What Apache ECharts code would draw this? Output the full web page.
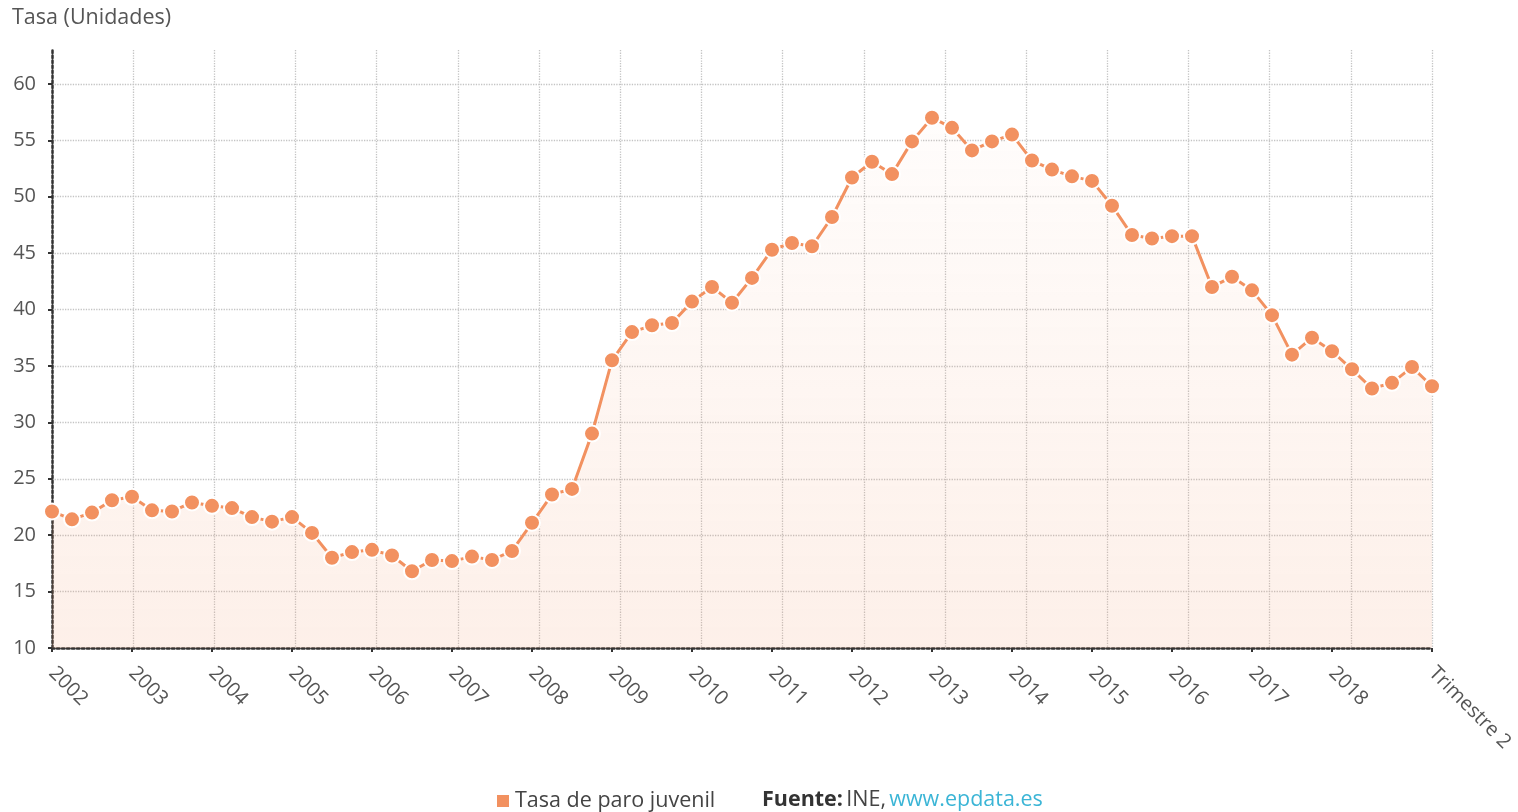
<!DOCTYPE html>
<html>
<head>
<meta charset="utf-8">
<title>Tasa de paro juvenil</title>
<script src="https://cdn.jsdelivr.net/npm/echarts@6/dist/echarts.min.js"></script>
<style>
  html, body { margin: 0; padding: 0; background: #ffffff; }
  #chart { width: 1518px; height: 812px; }
</style>
</head>
<body>
<div id="chart"></div>
<script>
// años del eje, cada uno con sus cuatro trimestres
const years = [2002, 2003, 2004, 2005, 2006, 2007, 2008, 2009, 2010, 2011, 2012, 2013, 2014, 2015, 2016, 2017, 2018, 2019]
const quarterNames = ['', 'Trimestre 2', 'Trimestre 3', 'Trimestre 4']
// tasa de paro juvenil (%), 2002 T1 .. 2019 T2
const paroJuvenil = [
  22.1, 21.4, 22.0, 23.1,
  23.4, 22.2, 22.1, 22.9,
  22.6, 22.4, 21.6, 21.2,
  21.6, 20.2, 18.0, 18.5,
  18.7, 18.2, 16.8, 17.8,
  17.7, 18.1, 17.8, 18.6,
  21.1, 23.6, 24.1, 29.0,
  35.5, 38.0, 38.6, 38.8,
  40.7, 42.0, 40.6, 42.8,
  45.3, 45.9, 45.6, 48.2,
  51.7, 53.1, 52.0, 54.9,
  57.0, 56.1, 54.1, 54.9,
  55.5, 53.2, 52.4, 51.8,
  51.4, 49.2, 46.6, 46.3,
  46.5, 46.5, 42.0, 42.9,
  41.7, 39.5, 36.0, 37.5,
  36.3, 34.7, 33.0, 33.5,
  34.9, 33.2
]
const yTicks = { min: 10, max: 63, step: 5 }

const categories = []
years.forEach((y) => {
  quarterNames.forEach((q) => {
    categories.push(q === '' ? String(y) : q)
  })
})
categories.length = paroJuvenil.length

const lastIdx = paroJuvenil.length - 1
const showTick = (idx) => idx % 4 === 0 && idx !== lastIdx - 1 || idx === lastIdx

const mainColor = '#f29160'
const textColor = '#555555'
const fontFamily = '"Open Sans", "Noto Sans", sans-serif'

// líneas horizontales: la última (extremo 63) va transparente
const hLineColors = []
for (let v = yTicks.min; v <= 60; v += yTicks.step) hLineColors.push('#c4c4c4')
hLineColors.push('rgba(0,0,0,0)')

var chartDom = document.getElementById('chart')
var myChart = echarts.init(chartDom)
var option

option = {
  animation: false,
  textStyle: { fontFamily: fontFamily },
  grid: {
    left: 52,
    right: 86,
    top: 50,
    bottom: 164,
    containLabel: false
  },
  legend: {
    data: ['Tasa de paro juvenil'],
    left: 490,
    top: 785,
    icon: 'rect',
    itemWidth: 14,
    itemHeight: 14,
    itemGap: 8,
    textStyle: { fontSize: 21.5, color: '#444', fontFamily: fontFamily }
  },
  graphic: [
    {
      type: 'text',
      left: 12,
      top: 7,
      style: {
        text: 'Tasa (Unidades)',
        fill: textColor,
        font: '21.5px ' + fontFamily
      }
    },
    {
      type: 'text',
      left: 762,
      top: 789,
      style: {
        text: '{b|Fuente:} {n|INE,} {l|www.epdata.es}',
        rich: {
          b: { fontSize: 21.5, fontWeight: 'bold', fill: '#333', fontFamily: fontFamily },
          n: { fontSize: 21.5, fill: '#444', fontFamily: fontFamily },
          l: { fontSize: 21.5, fill: '#3bb5d6', fontFamily: fontFamily }
        }
      }
    }
  ],
  xAxis: [
    {
      type: 'category',
      data: categories,
      boundaryGap: false,
      axisLine: { lineStyle: { color: '#333', width: 2.5, type: 'dotted' } },
      axisTick: {
        show: true,
        length: 4,
        interval: (idx) => showTick(idx),
        lineStyle: { color: '#333', width: 2 }
      },
      axisLabel: {
        interval: (idx) => showTick(idx),
        rotate: -45,
        margin: 22,
        fontSize: 20,
        color: textColor,
        fontFamily: fontFamily
      },
      splitLine: { show: false }
    },
    {
      // sólo para las líneas verticales de la rejilla
      type: 'value',
      position: 'bottom',
      min: 0,
      max: 17,
      interval: 1,
      axisLine: { show: false },
      axisTick: { show: false },
      axisLabel: { show: false },
      splitLine: { show: true, lineStyle: { color: '#c4c4c4', type: 'dotted', width: 1.3 } }
    }
  ],
  yAxis: {
    type: 'value',
    min: yTicks.min,
    max: yTicks.max,
    interval: yTicks.step,
    axisLine: { show: true, lineStyle: { color: '#333', width: 2.5, type: 'dotted' } },
    axisTick: { show: true, length: 4, lineStyle: { color: '#333', width: 2 } },
    axisLabel: {
      showMaxLabel: false,
      margin: 16,
      fontSize: 20,
      color: textColor,
      fontFamily: fontFamily
    },
    splitLine: { show: true, lineStyle: { color: hLineColors, type: 'dotted', width: 1.3 } }
  },
  series: [
    {
      name: 'Tasa de paro juvenil',
      type: 'line',
      xAxisIndex: 0,
      data: paroJuvenil,
      symbol: 'circle',
      symbolSize: 16,
      showAllSymbol: true,
      itemStyle: { color: mainColor, borderColor: '#ffffff', borderWidth: 2 },
      lineStyle: { color: mainColor, width: 3 },
      areaStyle: {
        color: new echarts.graphic.LinearGradient(0, 0, 0, 1, [
          { offset: 0, color: 'rgba(242,145,96,0.03)' },
          { offset: 1, color: 'rgba(242,145,96,0.2)' }
        ])
      }
    }
  ]
}

option && myChart.setOption(option)
</script>
</body>
</html>
